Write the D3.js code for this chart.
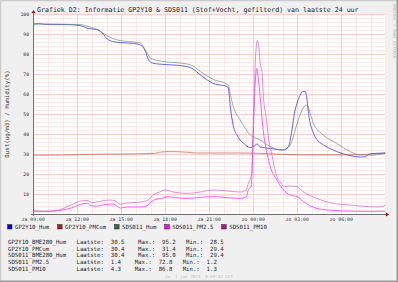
<!DOCTYPE html>
<html>
<head>
<meta charset="utf-8">
<script src="https://cdn.jsdelivr.net/npm/d3@7"></script>
<style>
	body { margin: 0; background: #fff; }
	svg text { font-family: "DejaVu Sans Mono", monospace; }
</style>
</head>
<body>
<svg id="chart" width="398" height="282"></svg>
<script>
// Values: [hours since za 09:00, value]
let gp2y10Hum = [
	[0, 95.0], [0.34, 95.2], [0.82, 94.8], [2.3, 94.7], [3.2, 94.2], [3.75, 92.8], [4.43, 92.0],
	[4.7, 90.5], [5.05, 87.5], [5.4, 86.3], [5.93, 85.7], [6.82, 85.3], [7.3, 84.5], [7.64, 81.5],
	[7.84, 77.5], [8.11, 75.5], [8.52, 75.0], [9.55, 74.5], [10.5, 73.7], [10.9, 72.5], [11.4, 69.5],
	[12.27, 65.3], [13.23, 63.7], [13.3, 63.0], [13.43, 54.0], [13.64, 44.0], [13.89, 39.5],
	[14.11, 37.0], [14.32, 35.5], [14.8, 33.2], [15.07, 34.0], [15.27, 35.0], [15.48, 33.5],
	[16.16, 32.8], [17.05, 32.0], [17.39, 33.7], [17.64, 42.0], [17.8, 50.0], [17.98, 55.3],
	[18.2, 59.5], [18.34, 61.2], [18.55, 61.2], [18.65, 58.0], [18.77, 50.3], [19.11, 40.3],
	[19.43, 36.5], [19.8, 34.5], [20.7, 31.2], [21.6, 29.2], [22.3, 28.5], [22.64, 28.6],
	[22.86, 29.8], [23.3, 30.3], [24, 30.5]
];
let gp2y10PMCum = [
	[0, 29.4], [2, 29.5], [4.6, 29.9], [6, 30.0], [8.3, 30.3], [8.6, 30.9], [9.3, 31.2],
	[10.5, 30.9], [11, 30.5], [14, 30.5], [15.5, 30.3], [17, 29.8], [19, 29.6], [22, 29.6],
	[23.5, 30.2], [24, 30.4]
];
let sds011Hum = [
	[0, 94.8], [0.8, 95.0], [3.2, 94.7], [3.75, 93.7], [4.43, 92.0], [4.84, 90.0], [5.25, 88.3],
	[5.93, 86.7], [7.09, 85.8], [7.36, 85.3], [7.5, 83.7], [7.77, 80.5], [7.98, 78.0], [8.66, 76.5],
	[10.5, 75.0], [10.9, 74.0], [11.4, 71.2], [12.27, 67.3], [13.3, 64.5], [13.43, 60.0],
	[13.64, 53.7], [14.11, 47.0], [14.8, 39.5], [15.48, 37.0], [16.16, 33.7], [17.07, 32.0],
	[17.52, 34.5], [18.07, 47.0], [18.4, 53.0], [18.66, 54.5], [18.9, 50.0], [19.09, 45.5],
	[19.77, 39.5], [20.7, 35.3], [21.61, 31.2], [22.3, 29.5], [22.98, 29.4], [24, 30.4]
];
let sds011PM25 = [
	[0, 1.5], [0.68, 1.2], [1.16, 1.3], [1.84, 1.8], [2.32, 2.5], [2.73, 3.3], [3.2, 4.8],
	[3.68, 5.3], [3.89, 4.3], [4.36, 3.9], [4.57, 4.3], [5.45, 5.0], [5.93, 3.0], [6.41, 3.5],
	[7.3, 3.5], [7.77, 4.2], [8.18, 6.8], [8.86, 8.0], [9.14, 8.7], [9.68, 8.2], [10.5, 7.8],
	[11.39, 8.3], [12.27, 8.7], [13.23, 8.2], [14.11, 7.8], [14.52, 8.5], [14.66, 12.0],
	[14.86, 14.0], [15.0, 40.0], [15.14, 66.0], [15.24, 72.8], [15.34, 68.0], [15.48, 58.0],
	[15.61, 47.0], [15.75, 38.0], [15.95, 30.0], [16.16, 23.7], [16.61, 17.0], [17.07, 12.0],
	[17.52, 9.5], [17.98, 8.7], [18.43, 6.2], [19.34, 2.8], [20.48, 1.8], [21.61, 1.4],
	[22.64, 1.3], [24, 1.4]
];
let sds011PM10 = [
	[0, 1.5], [0.68, 1.4], [1.5, 1.6], [1.84, 2.2], [2.32, 3.7], [2.73, 5.0], [3.2, 6.5],
	[3.68, 6.8], [4.0, 5.7], [4.43, 6.2], [5.25, 7.0], [5.6, 6.5], [5.93, 4.8], [6.4, 5.5],
	[6.82, 5.7], [7.3, 6.0], [7.77, 6.7], [8.18, 9.5], [8.6, 11.0], [9.0, 12.0], [9.55, 11.0],
	[10.5, 10.3], [11.39, 11.0], [12.27, 12.0], [13.23, 11.5], [14.11, 11.0], [14.52, 12.0],
	[14.66, 15.3], [14.9, 20.0], [15.0, 45.0], [15.17, 80.0], [15.28, 86.8], [15.4, 82.0],
	[15.48, 75.0], [15.58, 72.0], [15.7, 58.0], [15.9, 47.0], [16.06, 37.0], [16.26, 30.0],
	[16.61, 18.7], [16.9, 15.5], [17.07, 13.7], [17.5, 14.0], [17.98, 13.7], [18.39, 11.2],
	[19.34, 7.8], [20.45, 5.3], [21.61, 4.5], [22.75, 3.7], [23.5, 3.5], [24, 4.3]
];

let legendNames = ['GP2Y10_Hum', 'GP2Y10_PMCum', 'SDS011_Hum', 'SDS011_PM2.5', 'SDS011_PM10'];
let statNames = ['GP2Y10_BME280_Hum', 'GP2Y10_PMCum', 'SDS011_BME280_Hum', 'SDS011_PM2.5', 'SDS011_PM10'];
let statLast = ['30.5', '30.4', '30.4', '1.4', '4.3'];
let statMax = ['95.2', '31.4', '95.0', '72.8', '86.8'];
let statMin = ['28.5', '29.4', '29.4', '1.2', '1.3'];
let yTicks = [10, 20, 30, 40, 50, 60, 70, 80, 90, 100];

let series = [
	{data: gp2y10Hum, line: 'rgba(50,50,255,0.75)', box: '#0000ff'},
	{data: gp2y10PMCum, line: 'rgba(190,90,70,0.7)', box: '#a02818'},
	{data: sds011Hum, line: 'rgba(80,145,115,0.65)', box: '#2e6e50'},
	{data: sds011PM25, line: 'rgba(255,40,255,0.75)', box: '#ff00ff'},
	{data: sds011PM10, line: 'rgba(205,90,180,0.65)', box: '#c0108c'}
];

let W = 398, H = 282;
let L = 33, R = 385, T = 14, B = 214;

let nl = d3.timeFormatLocale({
	dateTime: '%a %e %b %Y %X', date: '%d-%m-%Y', time: '%H:%M:%S', periods: ['AM', 'PM'],
	days: ['zondag', 'maandag', 'dinsdag', 'woensdag', 'donderdag', 'vrijdag', 'zaterdag'],
	shortDays: ['zo', 'ma', 'di', 'wo', 'do', 'vr', 'za'],
	months: ['januari', 'februari', 'maart', 'april', 'mei', 'juni', 'juli', 'augustus', 'september', 'oktober', 'november', 'december'],
	shortMonths: ['jan', 'feb', 'mrt', 'apr', 'mei', 'jun', 'jul', 'aug', 'sep', 'okt', 'nov', 'dec']
});

let t0 = new Date(2022, 11, 31, 9, 0, 0);
let toDate = h => new Date(t0.getTime() + h * 3600e3);

let x = d3.scaleTime().domain([toDate(-1 / 60), toDate(24 - 1 / 60)]).range([L, R]);
let y = d3.scaleLinear().domain([0, 100]).range([B, T]);

let svg = d3.select('#chart');

// Background + frame
svg.append('rect').attr('width', W).attr('height', H).attr('fill', '#f0f0f0');
svg.append('path').attr('d', `M0.5,${H}V0.5H${W}`).attr('fill', 'none').attr('stroke', '#cbcbcb').attr('stroke-width', 1.5);
svg.append('path').attr('d', `M0,${H - 0.75}H${W - 0.75}V0`).attr('fill', 'none').attr('stroke', '#999').attr('stroke-width', 1.5);
svg.append('rect').attr('x', L).attr('y', T).attr('width', R - L).attr('height', B - T).attr('fill', '#fff');

// Grid
let grid = svg.append('g').attr('shape-rendering', 'crispEdges');
grid.selectAll('.hmin').data(d3.range(2, 100, 2).filter(v => v % 10)).enter().append('line')
	.attr('x1', L).attr('x2', R).attr('y1', d => Math.round(y(d)) + 0.5).attr('y2', d => Math.round(y(d)) + 0.5)
	.attr('stroke', '#ffeaea');
grid.selectAll('.vmin').data(x.ticks(d3.timeHour.every(1))).enter().append('line')
	.attr('x1', d => Math.round(x(d)) + 0.5).attr('x2', d => Math.round(x(d)) + 0.5).attr('y1', T).attr('y2', B)
	.attr('stroke', '#ffe6e6');
grid.selectAll('.hmaj').data(yTicks).enter().append('line')
	.attr('x1', L).attr('x2', R).attr('y1', d => Math.round(y(d)) + 0.5).attr('y2', d => Math.round(y(d)) + 0.5)
	.attr('stroke', '#ffcaca');
grid.selectAll('.vmaj').data(x.ticks(d3.timeHour.every(3))).enter().append('line')
	.attr('x1', d => Math.round(x(d)) + 0.5).attr('x2', d => Math.round(x(d)) + 0.5).attr('y1', T).attr('y2', B)
	.attr('stroke', '#ffcaca');

// Series lines
let line = d3.line().x(d => x(toDate(d[0]))).y(d => y(d[1])).curve(d3.curveMonotoneX);
svg.append('g').selectAll('path').data(series).enter().append('path')
	.attr('d', s => line(s.data))
	.attr('fill', 'none')
	.attr('stroke', s => s.line)
	.attr('stroke-width', 1);

// Axes lines + arrows
svg.append('line').attr('x1', L - 2).attr('x2', R + 2).attr('y1', B + 0.5).attr('y2', B + 0.5).attr('stroke', '#707070');
svg.append('line').attr('x1', L + 0.5).attr('x2', L + 0.5).attr('y1', B + 2).attr('y2', T - 2).attr('stroke', '#707070');
svg.append('path').attr('d', `M${R + 1},${B - 1.5}L${R + 4},${B + 0.5}L${R + 1},${B + 2.5}Z`).attr('fill', '#b00000');
svg.append('path').attr('d', `M${L - 1.5},${T - 1}L${L + 0.5},${T - 4}L${L + 2.5},${T - 1}Z`).attr('fill', '#b00000');

// Tick labels
svg.append('g').selectAll('text').data(yTicks).enter().append('text')
	.attr('x', L - 4).attr('y', d => y(d) + 1.7)
	.attr('text-anchor', 'end').attr('font-size', 4.7).attr('fill', '#333')
	.text(d => d);
let fmt = nl.format('%a %H:%M');
svg.append('g').selectAll('text').data(x.ticks(d3.timeHour.every(3))).enter().append('text')
	.attr('x', d => x(d)).attr('y', 220.5)
	.attr('text-anchor', 'middle').attr('font-size', 4.8).attr('fill', '#333')
	.text(d => fmt(d));

// Titles
svg.append('text').attr('x', 37).attr('y', 12).attr('font-size', 6.6).attr('fill', '#222')
	.text('Grafiek D2: Informatie GP2Y10 & SDS011 (Stof+Vocht, gefilterd) van laatste 24 uur');
svg.append('text').attr('transform', 'translate(8.5,114) rotate(-90)').attr('text-anchor', 'middle')
	.attr('font-size', 5.8).attr('fill', '#333').text('Dust(ug/m3) / Humidity(%)');
svg.append('text').attr('transform', 'translate(392.5,4) rotate(90)').attr('font-size', 4.1)
	.attr('fill', '#b8b8b8').text('RRDTOOL / TOBI OETIKER');

// Legend row
let cw = 5.7 * 0.6021;
let lx = 7.5;
legendNames.forEach((name, i) => {
	svg.append('rect').attr('x', lx).attr('y', 224.5).attr('width', 4.5).attr('height', 4.5)
		.attr('fill', series[i].box).attr('stroke', '#222').attr('stroke-width', 0.5);
	svg.append('text').attr('x', lx + 7.5).attr('y', 229).attr('font-size', 5.7).attr('fill', '#222').text(name);
	lx += 7.5 + name.length * cw + 8.3;
});

// Stats rows
statNames.forEach((name, i) => {
	let row = name.padEnd(20) + 'Laatste:  ' + statLast[i] + '    Max.:  ' + statMax[i] + '   Min.:  ' + statMin[i];
	svg.append('text').attr('x', 8).attr('y', 243.7 + i * 6.8).attr('font-size', 5.7)
		.attr('fill', '#222').style('white-space', 'pre').text(row);
});

svg.append('text').attr('x', 199).attr('y', 278).attr('text-anchor', 'middle')
	.attr('font-size', 4.2).attr('fill', '#c0c0c0').style('white-space', 'pre')
	.text('zo  1 jan 2023  8:59:01 CET');
</script>
</body>
</html>
